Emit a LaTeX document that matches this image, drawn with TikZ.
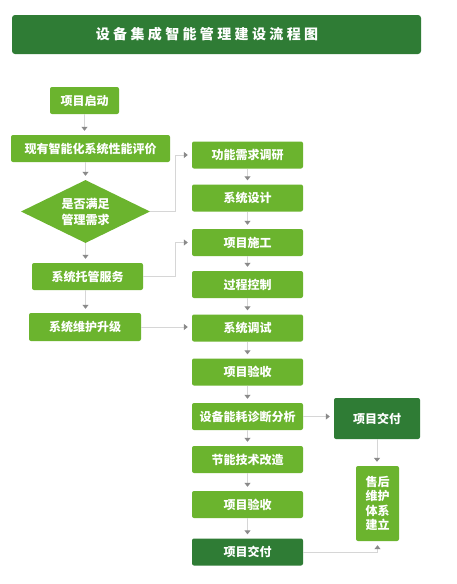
\documentclass[tikz,border=0pt]{standalone}
\usepackage{fontspec}
\setmainfont{Noto Sans CJK SC}
\newfontfamily\cjktitle[LetterSpace=24]{Noto Sans CJK SC}
\usetikzlibrary{shapes.geometric,arrows.meta}
\definecolor{lgreen}{HTML}{6BB42E}
\definecolor{dgreen}{HTML}{2F7C35}
\definecolor{lineg}{HTML}{D6D6D6}
\definecolor{tipg}{HTML}{8A8A8A}
\tikzset{
  box/.style={fill=lgreen, rounded corners=2pt, text=white, inner sep=0pt, font=\fontsize{12}{14}\selectfont\bfseries, align=center},
  dbox/.style={box, fill=dgreen},
  rbox/.style={box, minimum width=111pt, minimum height=27pt},
  conn/.style={draw=lineg, line width=1pt, -{Triangle[width=6pt,length=4pt,color=tipg]}, shorten >=4pt}
}
\begin{document}
\begin{tikzpicture}[x=1pt,y=-1pt]
\useasboundingbox (0,0) rectangle (457,584);
\fill[white] (0,0) rectangle (457,584);
% title
\node[fill=dgreen, rounded corners=3pt, minimum width=409pt, minimum height=39pt, inner sep=0pt] (title) at (216.5,34.5) {};
\node[text=white, font=\fontsize{14}{16}\selectfont\cjktitle\bfseries, inner sep=0pt] (titletext) at (207,34.5) {设备集成智能管理建设流程图};
% left column
\node[box, minimum width=69pt, minimum height=27pt] (start) at (84.5,100.5) {项目启动};
\node[box, minimum width=159pt, minimum height=27pt] (eval) at (90.5,148.5) {现有智能化系统性能评价};
\node[diamond, fill=lgreen, text=white, inner sep=0pt, minimum width=129pt, minimum height=63pt, aspect=2.05, font=\fontsize{12}{16}\selectfont\bfseries, align=center] (dia) at (85.5,211.5) {是否满足\\管理需求};
\node[box, minimum width=111pt, minimum height=27pt] (host) at (87.5,276.5) {系统托管服务};
\node[box, minimum width=112pt, minimum height=28pt] (maint) at (85,327) {系统维护升级};
% right column
\node[rbox] (r1) at (247.5,155) {功能需求调研};
\node[rbox] (r2) at (247.5,198) {系统设计};
\node[rbox] (r3) at (247.5,242.5) {项目施工};
\node[rbox] (r4) at (247.5,284.5) {过程控制};
\node[rbox] (r5) at (247.5,328) {系统调试};
\node[rbox] (r6) at (247.5,372) {项目验收};
\node[rbox] (r7) at (247.5,416.5) {设备能耗诊断分析};
\node[rbox] (r8) at (247.5,459.5) {节能技术改造};
\node[rbox] (r9) at (247.5,504.5) {项目验收};
\node[rbox, dbox] (r10) at (247.5,552) {项目交付};
\node[dbox, minimum width=86pt, minimum height=41pt] (del) at (377,418.5) {项目交付};
\node[box, minimum width=43pt, minimum height=75pt, font=\fontsize{12}{14.5}\selectfont\bfseries] (after) at (377.5,503.5) {售后\\维护\\体系\\建立};
% left connectors
\draw[conn] (start.south) -- (start.south |- eval.north);
\draw[conn] (dia.north |- eval.south) -- (dia.north);
\draw[conn] (dia.south) -- (dia.south |- host.north);
\draw[conn] (dia.south |- host.south) -- (dia.south |- maint.north);
% cross connectors
\draw[conn] (dia.east) -- ++(25,0) |- (r1.west);
\draw[conn] (host.east) -- ++(32,0) |- (r3.west);
\draw[conn] (maint.east) -- (maint.east -| r5.west);
\draw[conn] (r7.east) -- (r7.east -| del.west);
% right column
\draw[conn] (r1.south) -- (r2.north);
\draw[conn] (r2.south) -- (r3.north);
\draw[conn] (r3.south) -- (r4.north);
\draw[conn] (r4.south) -- (r5.north);
\draw[conn] (r5.south) -- (r6.north);
\draw[conn] (r6.south) -- (r7.north);
\draw[conn] (r7.south) -- (r8.north);
\draw[conn] (r8.south) -- (r9.north);
\draw[conn] (r9.south) -- (r10.north);
\draw[conn] (del.south) -- (del.south |- after.north);
\draw[conn] (r10.east) -| (after.south);
\end{tikzpicture}
\end{document}
